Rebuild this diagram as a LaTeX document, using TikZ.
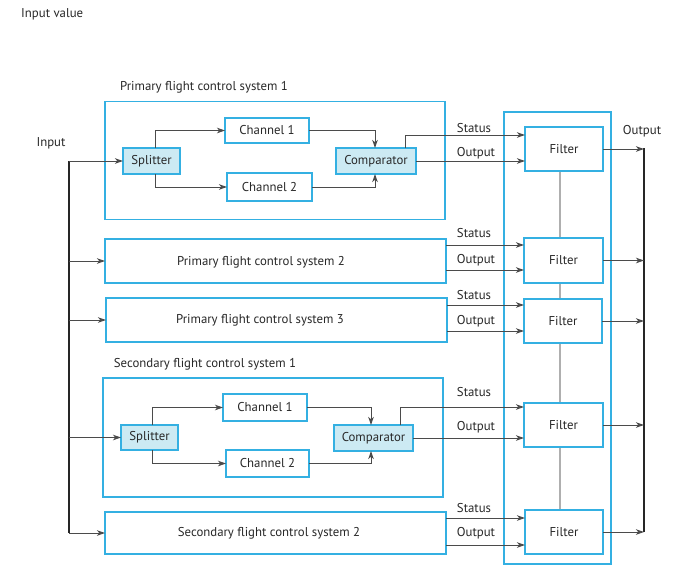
\documentclass[tikz,border=0pt]{standalone}
\usepackage{fontspec}
\setmainfont{PT Sans}
\usetikzlibrary{arrows.meta,calc}
\definecolor{bblue}{RGB}{52,176,226}
\definecolor{lblue}{RGB}{204,234,243}
\definecolor{txt}{RGB}{40,40,40}
\definecolor{lnc}{RGB}{75,75,75}
\definecolor{gln}{RGB}{175,175,175}
\begin{document}
\begin{tikzpicture}[x=1pt,y=-1pt,
  every node/.style={font=\fontsize{12.8}{15}\selectfont, text=txt},
  bx/.style={draw=bblue, line width=1.5pt, fill=white, inner sep=0pt, outer sep=0pt},
  sbx/.style={bx, fill=lblue},
  arr/.style={draw=lnc, line width=1pt, -{Stealth[length=8pt,width=5.5pt,inset=2.2pt]}},
  bus/.style={draw=black!85, line width=2.6pt},
  gl/.style={draw=gln, line width=2.4pt},
  lbl/.style={inner sep=0pt}]
\useasboundingbox (0,0) rectangle (684,587);
\fill[white] (0,0) rectangle (684,587);

% texts
\node[lbl, anchor=west] (iv) at (21,14) {Input value};
\node[lbl] (inl) at (51,143) {Input};
\node[lbl] (outl) at (642,131) {Output};
\node[lbl] (t1) at (204,87) {Primary flight control system 1};
\node[lbl] (t4) at (205,364) {Secondary flight control system 1};

% filter container
\node[bx, minimum width=107, minimum height=452] (fc) at (557.5,338) {};

% system boxes
\node[bx, minimum width=340, minimum height=118] (pf1) at (275,160.5) {};
\node[bx, minimum width=341, minimum height=44] (pf2) at (275.5,261) {};
\node[bx, minimum width=341, minimum height=44] (pf3) at (276.5,320) {};
\node[bx, minimum width=340, minimum height=119] (sf1) at (273,437.5) {};
\node[bx, minimum width=341, minimum height=42] (sf2) at (275.5,533) {};
\node[lbl] (pf2t) at (261,262) {Primary flight control system 2};
\node[lbl] (pf3t) at (260,320) {Primary flight control system 3};
\node[lbl] (sf2t) at (269,533) {Secondary flight control system 2};

% inner blocks primary 1
\node[sbx, minimum width=57, minimum height=26] (sp1) at (151.5,161) {Splitter};
\node[bx, minimum width=84, minimum height=25] (c11) at (267,130.5) {Channel 1};
\node[bx, minimum width=85, minimum height=28] (c12) at (269.5,187) {Channel 2};
\node[sbx, minimum width=80, minimum height=26] (cm1) at (376,161) {Comparator};

% inner blocks secondary 1
\node[sbx, minimum width=57, minimum height=25] (sp2) at (149.5,437.5) {Splitter};
\node[bx, minimum width=84, minimum height=27] (c21) at (265,407.5) {Channel 1};
\node[bx, minimum width=83, minimum height=27] (c22) at (267.5,463.5) {Channel 2};
\node[sbx, minimum width=79, minimum height=26] (cm2) at (373.5,438) {Comparator};

% gray links between filters
\coordinate (g1) at (560,171);
\coordinate (g2) at (560,510);
\draw[gl] (g1) -- (g2);

% filters
\node[bx, minimum width=78, minimum height=44] (f1) at (564,149) {Filter};
\node[bx, minimum width=79, minimum height=45] (f2) at (563.5,260.5) {Filter};
\node[bx, minimum width=78, minimum height=44] (f3) at (563,321) {Filter};
\node[bx, minimum width=79, minimum height=44] (f4) at (563.5,425) {Filter};
\node[bx, minimum width=78, minimum height=44] (f5) at (564,532) {Filter};

% input bus
\coordinate (ib1) at (69,161);
\coordinate (ib2) at (69,533);
\draw[bus] (ib1) -- (ib2);
\draw[arr] (ib1) -- (sp1.west);
\draw[arr] (pf2.west -| ib1) -- (pf2.west);
\draw[arr] (pf3.west -| ib1) -- (pf3.west);
\draw[arr] (sp2.west -| ib1) -- (sp2.west);
\draw[arr] (ib2) -- (sf2.west);

% output bus
\coordinate (ob1) at (644,148);
\coordinate (ob2) at (644,532);
\draw[bus] (ob1) -- (ob2);
\foreach \f in {f1,f2,f3,f4,f5} \draw[arr] (\f.east) -- (\f.east -| ob1);

% internal primary 1
\draw[arr] ([xshift=3.5pt]sp1.north) |- (c11.west);
\draw[arr] ([xshift=3.5pt]sp1.south) |- (c12.west);
\draw[arr] (c11.east) -| ([xshift=-1pt]cm1.north);
\draw[arr] (c12.east) -| ([xshift=-1pt]cm1.south);
% internal secondary 1
\draw[arr] ([xshift=2.5pt]sp2.north) |- (c21.west);
\draw[arr] ([xshift=2.5pt]sp2.south) |- (c22.west);
\draw[arr] (c21.east) -| ([xshift=-2.5pt]cm2.north);
\draw[arr] (c22.east) -| ([xshift=-2.5pt]cm2.south);

% status / output lines
\draw[arr] ([xshift=29pt]cm1.north) |- ([yshift=14pt]f1.west);
\draw[arr] (cm1.east) -- (cm1.east -| f1.west);
\draw[arr] ([yshift=15.5pt]f2.west -| pf2.east) -- ([yshift=15.5pt]f2.west);
\draw[arr] ([yshift=-9.5pt]f2.west -| pf2.east) -- ([yshift=-9.5pt]f2.west);
\draw[arr] ([yshift=16pt]f3.west -| pf3.east) -- ([yshift=16pt]f3.west);
\draw[arr] ([yshift=-10pt]f3.west -| pf3.east) -- ([yshift=-10pt]f3.west);
\draw[arr] ([xshift=26.5pt]cm2.north) |- ([yshift=18pt]f4.west);
\draw[arr] (cm2.east) -- (cm2.east -| f4.west);
\draw[arr] ([yshift=14pt]f5.west -| sf2.east) -- ([yshift=14pt]f5.west);
\draw[arr] ([yshift=-13pt]f5.west -| sf2.east) -- ([yshift=-13pt]f5.west);

% labels
\node[lbl] (s1) at (474,128) {Status};
\node[lbl] (o1) at (476,153) {Output};
\node[lbl] (s2) at (474,233) {Status};
\node[lbl] (o2) at (476,260) {Output};
\node[lbl] (s3) at (474,295) {Status};
\node[lbl] (o3) at (476,321) {Output};
\node[lbl] (s4) at (474,392) {Status};
\node[lbl] (o4) at (476,427) {Output};
\node[lbl] (s5) at (474,508) {Status};
\node[lbl] (o5) at (476,533) {Output};
\end{tikzpicture}
\end{document}
